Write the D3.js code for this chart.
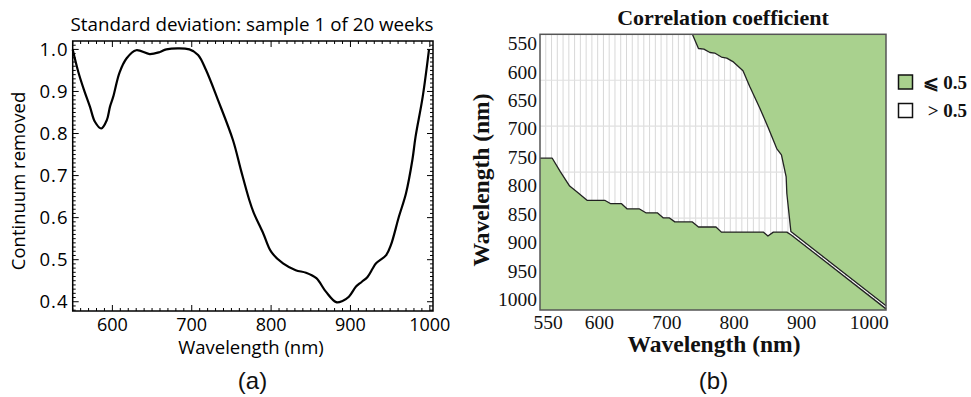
<!DOCTYPE html>
<html><head><meta charset="utf-8">
<script src="https://cdn.jsdelivr.net/npm/d3@7/dist/d3.min.js"></script>
<style>body{margin:0;background:#fff}svg{display:block}</style>
</head><body>
<svg id="chart" width="971" height="397"></svg>
<script>
// ---------------- Data: panel (a) ----------------
const specWavelength = [550,557,564,571.7,578,586,593,597,601,609,618,630,647,660,668,697,708,718,733,752,762,772.5,778,790,800,815,831,844,857,869,882,890,898,907,914,921.5,928,932,945,951,961,970,978,982,991,999];
const specValue      = [1.0,0.947,0.905,0.864,0.828,0.812,0.832,0.864,0.887,0.945,0.979,0.998,0.989,0.994,1.0,1.0,0.987,0.951,0.88,0.784,0.713,0.642,0.612,0.563,0.519,0.491,0.475,0.469,0.456,0.424,0.399,0.402,0.412,0.436,0.447,0.459,0.479,0.491,0.511,0.535,0.602,0.658,0.737,0.792,0.887,1.0];
const specXTicks = [600,700,800,900,1000];
const specYTicks = [0.4,0.5,0.6,0.7,0.8,0.9,1.0];
const specTitle = "Standard deviation: sample 1 of 20 weeks";

// ---------------- Data: panel (b) ----------------
const corrXTicks = [550,600,700,800,900,1000];
const corrYTicks = [550,600,650,700,750,800,850,900,950,1000];
// contour of the upper-right "<= 0.5" region (x wavelength, y wavelength)
const upperContourX = [738,747,755,764,771,781,789,798,813,823,838,850,863,870,877,878,884,1025];
const upperContourY = [534,559,560,566,567,574,576,582,598,626,664,697,735,746,785,814,881,1011.5];
// contour of the lower "<= 0.5" region
const lowerContourX = [542,554,562,571,578,588,608,617,633,641,659,669,686,695,704,712,738,747,773,781,843,850,858,878,884,1025];
const lowerContourY = [752,752,776,801,811,826,826,832,832,841,841,848,848,857,857,864,864,873,873,882,882,889,882,882,886.5,1017];
const legendLabels = ["\u2A7D 0.5", "> 0.5"];
const legendFills = ["#a9d18e", "#ffffff"];

// ---------------- Drawing ----------------
const svg = d3.select("#chart");
const sans = "'Open Sans', 'Noto Sans', sans-serif";
const serif = "'Liberation Serif', 'Times New Roman', serif";

// ===== Panel (a) =====
const ax = d3.scaleLinear().domain([550, 1004]).range([72.7, 433]);
const ay = d3.scaleLinear().domain([0.378, 1.02]).range([311, 41]);
const ga = svg.append("g");

// minor + major ticks, inward on all sides
const xMinor = d3.range(550, 1001, 10);
const yMinor = d3.range(38, 102, 1).map(v => v / 100);
const tickG = ga.append("g").attr("stroke", "#000").attr("stroke-width", 1);
xMinor.forEach(v => {
  const major = specXTicks.includes(v);
  const len = major ? 6 : 3;
  tickG.append("line").attr("x1", ax(v)).attr("x2", ax(v)).attr("y1", ay.range()[0]).attr("y2", ay.range()[0] - len);
  tickG.append("line").attr("x1", ax(v)).attr("x2", ax(v)).attr("y1", ay.range()[1]).attr("y2", ay.range()[1] + len);
});
yMinor.forEach(v => {
  const major = specYTicks.some(t => Math.abs(t - v) < 1e-9);
  const len = major ? 6 : 3;
  tickG.append("line").attr("y1", ay(v)).attr("y2", ay(v)).attr("x1", ax.range()[0]).attr("x2", ax.range()[0] + len);
  tickG.append("line").attr("y1", ay(v)).attr("y2", ay(v)).attr("x1", ax.range()[1]).attr("x2", ax.range()[1] - len);
});

// frame
ga.append("rect")
  .attr("x", ax.range()[0]).attr("y", ay.range()[1])
  .attr("width", ax.range()[1] - ax.range()[0]).attr("height", ay.range()[0] - ay.range()[1])
  .attr("fill", "none").attr("stroke", "#000").attr("stroke-width", 1.5);

// curve
const specData = specWavelength.map((w, i) => ({w, v: specValue[i]}));
ga.append("path").datum(specData)
  .attr("fill", "none").attr("stroke", "#000").attr("stroke-width", 2.2)
  .attr("stroke-linejoin", "round")
  .attr("d", d3.line().x(d => ax(d.w)).y(d => ay(d.v)).curve(d3.curveCatmullRom.alpha(0.5)));

// tick labels
ga.append("g").selectAll("text").data(specXTicks).join("text")
  .attr("x", d => ax(d)).attr("y", 331).attr("text-anchor", "middle")
  .attr("font-family", sans).attr("font-size", 18).attr("fill", "#000").text(d => d);
ga.append("g").selectAll("text").data(specYTicks).join("text")
  .attr("x", 68.5).attr("y", d => ay(d)).attr("dy", "0.36em").attr("text-anchor", "end")
  .attr("font-family", sans).attr("font-size", 18.5).attr("letter-spacing", 1).attr("fill", "#000").text(d => d3.format(".1f")(d));

ga.append("text").attr("x", 252).attr("y", 30.5).attr("text-anchor", "middle")
  .attr("font-family", sans).attr("font-size", 18.8).attr("fill", "#000").text(specTitle);
ga.append("text").attr("x", 251).attr("y", 354).attr("text-anchor", "middle")
  .attr("font-family", sans).attr("font-size", 18.5).attr("fill", "#000").text("Wavelength (nm)");
ga.append("text").attr("transform", "translate(25,181) rotate(-90)").attr("text-anchor", "middle")
  .attr("font-family", sans).attr("font-size", 18.5).attr("fill", "#000").text("Continuum removed");
ga.append("text").attr("x", 252.5).attr("y", 389).attr("text-anchor", "middle")
  .attr("font-family", "'Liberation Sans', Arial, sans-serif").attr("font-size", 24).attr("fill", "#111").text("(a)");

// ===== Panel (b) =====
const bx = d3.scaleLinear().domain([542, 600, 1025]).range([540, 599.3, 886]);
const by = d3.scaleLinear().domain([534, 1019]).range([34.3, 310]);
const gb = svg.append("g");
const [bx0, bx1] = [bx.range()[0], bx.range()[2]];
const [by0, by1] = by.range();

// grid (mesh): 60 columns, 6 row bands
const colScale = d3.scaleLinear().domain([0, 60]).range([bx0, bx1]);
const rowScale = d3.scaleLinear().domain([0, 6]).range([by0, by1]);
gb.append("g").selectAll("line").data(d3.range(1, 60)).join("line")
  .attr("x1", d => colScale(d)).attr("x2", d => colScale(d)).attr("y1", by0).attr("y2", by1)
  .attr("stroke", "#d8d8d8").attr("stroke-width", 1);
gb.append("g").selectAll("line").data(d3.range(1, 6)).join("line")
  .attr("y1", d => rowScale(d)).attr("y2", d => rowScale(d)).attr("x1", bx0).attr("x2", bx1)
  .attr("stroke", "#e0e0e0").attr("stroke-width", 1.2);

const upperContour = upperContourX.map((x, i) => [x, upperContourY[i]]);
const lowerContour = lowerContourX.map((x, i) => [x, lowerContourY[i]]);
const xd = bx.domain(), yd = by.domain();
const upperPoly = upperContour.concat([[xd[2], yd[0]]]);
const lowerPoly = lowerContour.concat([[xd[2], yd[1]], [xd[0], yd[1]]]);
const pline = d3.line().x(d => bx(d[0])).y(d => by(d[1]));

gb.append("path").attr("d", pline(upperPoly) + "Z").attr("fill", "#a9d18e");
gb.append("path").attr("d", pline(lowerPoly) + "Z").attr("fill", "#a9d18e");
gb.append("path").attr("d", pline(upperContour)).attr("fill", "none").attr("stroke", "#222").attr("stroke-width", 1.3).attr("stroke-linejoin", "round");
gb.append("path").attr("d", pline(lowerContour)).attr("fill", "none").attr("stroke", "#222").attr("stroke-width", 1.3).attr("stroke-linejoin", "round");

// frame
gb.append("rect").attr("x", bx0).attr("y", by0).attr("width", bx1 - bx0).attr("height", by1 - by0)
  .attr("fill", "none").attr("stroke", "#555").attr("stroke-width", 1.5);

// tick labels
gb.append("g").selectAll("text").data(corrXTicks).join("text")
  .attr("x", d => bx(d)).attr("y", 329).attr("text-anchor", "middle")
  .attr("font-family", serif).attr("font-size", 19.5).attr("fill", "#111").text(d => d);
gb.append("g").selectAll("text").data(corrYTicks).join("text")
  .attr("x", 537).attr("y", d => by(d)).attr("dy", "0.35em").attr("text-anchor", "end")
  .attr("font-family", serif).attr("font-size", 19.5).attr("fill", "#111").text(d => d);

gb.append("text").attr("x", 723).attr("y", 25).attr("text-anchor", "middle")
  .attr("font-family", serif).attr("font-weight", "bold").attr("font-size", 22).attr("fill", "#111").text("Correlation coefficient");
gb.append("text").attr("x", 714).attr("y", 352).attr("text-anchor", "middle")
  .attr("font-family", serif).attr("font-weight", "bold").attr("font-size", 23.5).attr("fill", "#111").text("Wavelength (nm)");
gb.append("text").attr("transform", "translate(489,180) rotate(-90)").attr("text-anchor", "middle")
  .attr("font-family", serif).attr("font-weight", "bold").attr("font-size", 23.5).attr("fill", "#111").text("Wavelength (nm)");
gb.append("text").attr("x", 713.5).attr("y", 389).attr("text-anchor", "middle")
  .attr("font-family", "'Liberation Sans', Arial, sans-serif").attr("font-size", 24).attr("fill", "#111").text("(b)");

// legend
const lg = gb.append("g");
legendLabels.forEach((lab, i) => {
  const yTop = 75 + i * 28.5;
  lg.append("rect").attr("x", 898.5).attr("y", yTop).attr("width", 14).attr("height", 14)
    .attr("fill", legendFills[i]).attr("stroke", "#111").attr("stroke-width", 1.5);
  lg.append("text").attr("x", 967).attr("y", yTop + 13.5).attr("text-anchor", "end")
    .attr("font-family", serif).attr("font-weight", "bold").attr("font-size", 19).attr("fill", "#111").text(lab);
});
</script>
</body></html>
